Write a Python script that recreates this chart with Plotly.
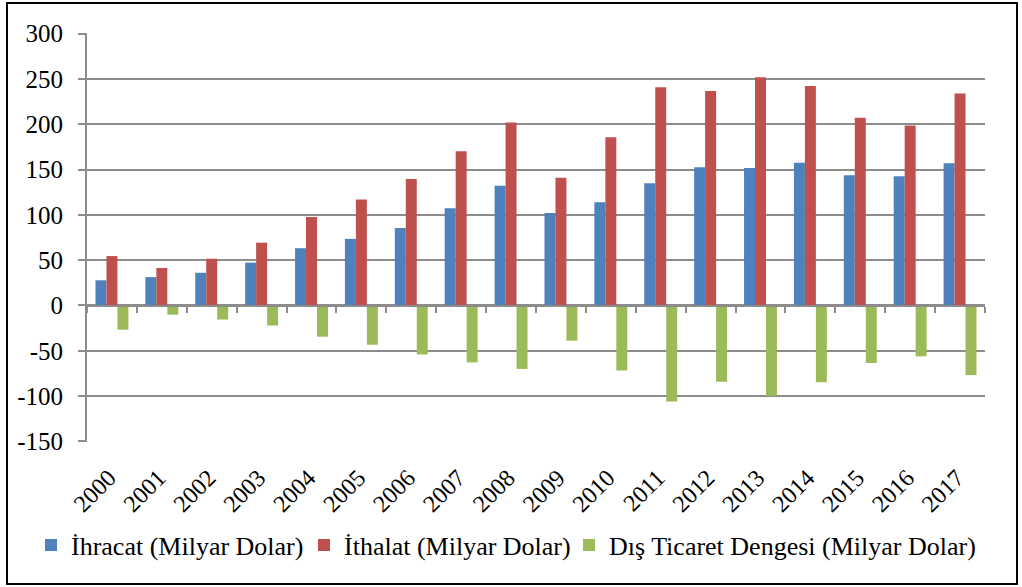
import plotly.graph_objects as go

# Turkey foreign trade, 2000-2017 (billion USD)
years = [str(y) for y in range(2000, 2018)]
exports = [27.8, 31.3, 36.1, 47.3, 63.2, 73.5, 85.5, 107.3, 132.0,
           102.1, 113.9, 134.9, 152.5, 151.8, 157.6, 143.8, 142.5, 157.0]
imports = [54.5, 41.4, 51.6, 69.3, 97.5, 116.8, 139.6, 170.1, 202.0,
           140.9, 185.5, 240.8, 236.5, 251.7, 242.2, 207.2, 198.6, 233.8]
balance = [-26.7, -10.1, -15.5, -22.1, -34.4, -43.3, -54.0, -62.8, -70.0,
           -38.8, -71.7, -105.9, -84.1, -99.9, -84.6, -63.4, -56.1, -76.8]
y_ticks = [-150, -100, -50, 0, 50, 100, 150, 200, 250, 300]
y_tick_text = [str(v) for v in y_ticks]

series_names = ["İhracat (Milyar Dolar)", "İthalat (Milyar Dolar)",
                "Dış Ticaret Dengesi (Milyar Dolar)"]
colors = ["#4F81BD", "#C0504D", "#9BBB59"]

GRID = "#8C8C8C"
FONT = "'Liberation Serif', 'Times New Roman', 'DejaVu Serif', serif"
y_min, y_max = -150, 300

# one single-entry legend per series, laid out in a row below the axis
legend_ids = ["legend", "legend2", "legend3"]
legend_left_px = [31, 304, 569]

fig = go.Figure()
for name, vals, col, lg in zip(series_names, [exports, imports, balance],
                               colors, legend_ids):
    fig.add_trace(go.Bar(x=years, y=vals, name=name, marker_color=col,
                         marker_line_width=0, legend=lg))

# invisible helper trace so the zero-level category axis gets its ticks
fig.add_trace(go.Scatter(x=years, y=[0] * len(years), xaxis="x2", mode="markers",
                         marker=dict(opacity=0), showlegend=False, hoverinfo="skip"))

zero_pos = (0 - y_min) / (y_max - y_min)
x_range = [-0.5, len(years) - 0.5]

legend_style = {
    lg: dict(orientation="h", xref="container", yref="container",
             x=px / 1022, y=1 - 545 / 587, xanchor="left", yanchor="middle",
             font=dict(family=FONT, size=26), itemwidth=30,
             bgcolor="rgba(0,0,0,0)")
    for lg, px in zip(legend_ids, legend_left_px)
}

fig.update_layout(
    width=1022, height=587, autosize=False,
    margin=dict(l=87, r=37, t=33, b=145, autoexpand=False),
    paper_bgcolor="white", plot_bgcolor="white",
    font=dict(family=FONT, size=24, color="black"),
    barmode="group", bargap=0.34, bargroupgap=0,
    showlegend=True,
    **legend_style,
    xaxis=dict(type="category", range=x_range, showgrid=False, showline=False,
               ticks="", tickangle=-45, ticklabelstandoff=16, ticklabelshift=-3,
               automargin=False, zeroline=False,
               tickfont=dict(family=FONT, size=24)),
    xaxis2=dict(type="category", overlaying="x", matches="x", anchor="free",
                position=zero_pos, side="bottom", showticklabels=False,
                showline=True, linecolor=GRID, linewidth=2, ticks="outside",
                tickson="boundaries", ticklen=6, tickwidth=2, tickcolor=GRID,
                showgrid=False, zeroline=False, automargin=False),
    yaxis=dict(range=[y_min - 0.6, y_max + 0.6], tickvals=y_ticks,
               ticktext=y_tick_text, showgrid=True, automargin=False,
               gridcolor=GRID, gridwidth=2, zeroline=False, showline=True,
               linecolor=GRID, linewidth=2, ticks="outside", ticklen=7,
               tickwidth=2, tickcolor=GRID, ticklabelstandoff=10,
               tickfont=dict(family=FONT, size=25)),
    shapes=[dict(type="rect", xref="paper", yref="paper",
                 x0=-80 / 898, x1=1 + 32 / 898, y0=-142 / 409, y1=1 + 30 / 409,
                 line=dict(color="black", width=2), layer="below")],
)

fig.write_html("out.html")
